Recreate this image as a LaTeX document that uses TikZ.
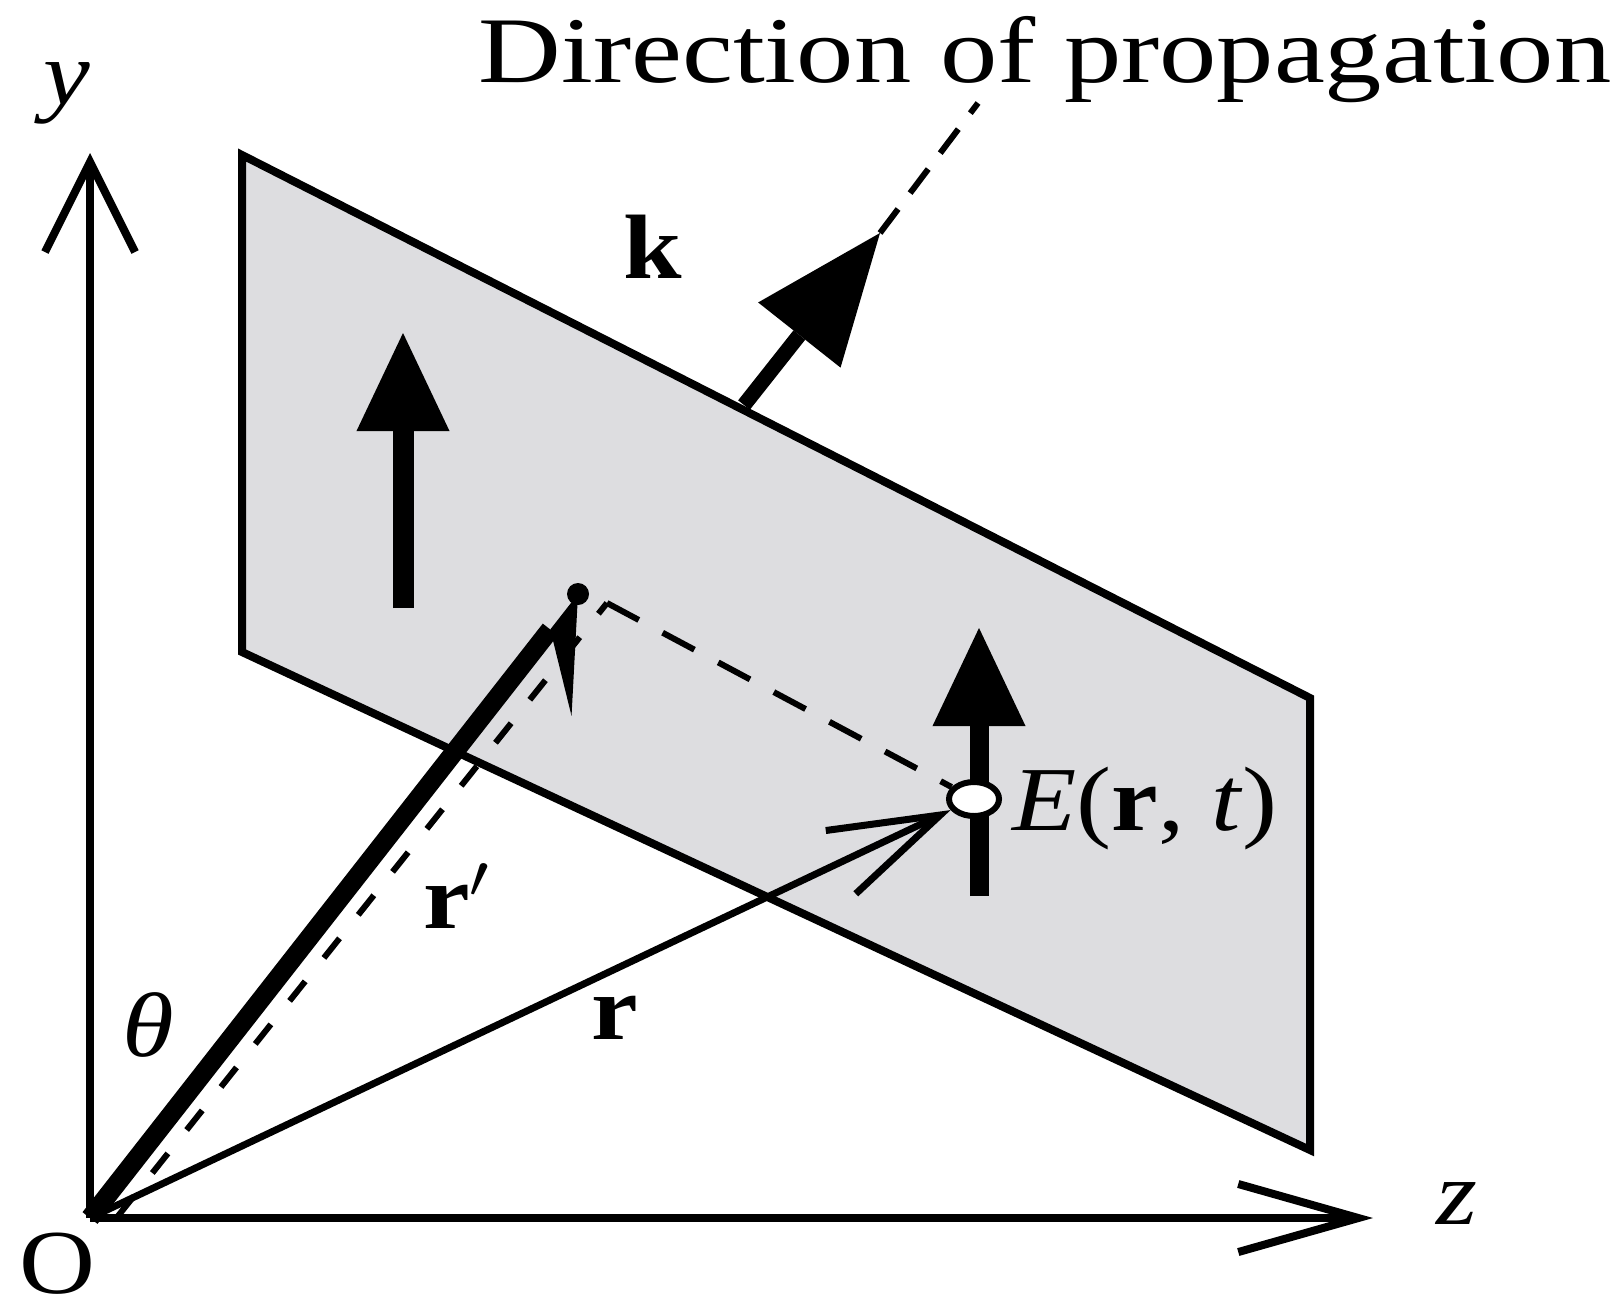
\documentclass[tikz,border=0pt]{standalone}
\usepackage{fontspec}
\setmainfont{Liberation Serif}
\usetikzlibrary{arrows.meta,shapes.geometric}

\definecolor{planegray}{RGB}{221,221,224}
\newcommand{\wtext}[2][1.15]{\scalebox{#1}[1]{#2}}

\tikzset{
  axis/.style={line width=0.08cm},
  lbl/.style={inner sep=0pt, font=\fontsize{26}{30}\selectfont},
  dashline/.style={line width=0.06cm, dash pattern=on 0.3cm off 0.25cm},
  fieldarrow/.style={line width=0.21cm, -{Triangle[length=0.98cm,width=0.93cm,line width=0pt]}},
}

\begin{document}
\begin{tikzpicture}[x=0.01cm, y=-0.01cm]
  \useasboundingbox (0,0) rectangle (1619,1312);
  % points
  \coordinate (O) at (90,1218);
  \coordinate (ytip) at (90,153);
  \coordinate (ztip) at (1373,1218);
  \coordinate (pa) at (242,155);
  \coordinate (pb) at (242,652);
  \coordinate (pc) at (1310,1150);
  \coordinate (pd) at (1310,698);
  % wave front
  \filldraw[fill=planegray, line width=0.08cm] (pa) -- (pb) -- (pc) -- (pd) -- cycle;
  % axes
  \draw[axis, -{Straight Barb[length=0.9cm,width=0.9cm]}] (O) -- (ytip);
  \draw[axis, -{Straight Barb[length=1.2cm,width=0.68cm]}] (O) -- (ztip);
  % field in the plane
  \coordinate (fa) at (403,608);
  \coordinate (fb) at (403,333);
  \draw[fieldarrow] (fa) -- (fb);
  \coordinate (ea) at (979,896);
  \coordinate (eb) at (979,628);
  \draw[fieldarrow, line width=0.19cm] (ea) -- (eb);
  % k and direction of propagation
  \coordinate (kbase) at (744,405);
  \coordinate (ktip) at (880,233);
  \coordinate (dirend) at (978,103);
  \draw[line width=0.15cm, -{Triangle[length=1.3cm,width=1.05cm,line width=0pt]}] (kbase) -- (ktip);
  \draw[dashline, dash pattern=on 0.3cm off 0.2cm] (ktip) -- (dirend);
  \node[lbl, font=\fontsize{26.7}{32}\selectfont, anchor=base west] (title) at (478,82)
    {\wtext[1.22]{Direction of propagation}};
  % point E
  \node[ellipse, draw, fill=white, line width=0.06cm, minimum width=0.5cm,
        minimum height=0.34cm, inner sep=0pt] (E) at (974,799) {};
  % r' and r
  \coordinate (foot) at (578,594);
  \coordinate (rpbase) at (118,1216);
  \coordinate (rptip) at (607,603);
  \draw[line width=0.19cm, -{Stealth[harpoon,swap,length=1cm,width=1.4cm,inset=0.55cm,line width=0pt]}] (O) -- (foot);
  \fill (foot) circle (11);
  \draw[dashline, dash pattern=on 0.25cm off 0.3cm] (rpbase) -- (rptip);
  \draw[dashline, dash pattern=on 0.36cm off 0.27cm] (rptip) -- (E);
  \draw[line width=0.07cm, -{Straight Barb[length=1.1cm,width=0.7cm]}] (O) -- (E);
  % labels
  \node[lbl] (ylab) at (67,93) {\wtext{\textit{y}}};
  \node[lbl] (zlab) at (1457,1203) {\wtext{\textit{z}}};
  \node[lbl] (Olab) at (57,1264) {\wtext{O}};
  \node[lbl] (thlab) at (148,1025) {\wtext{\textit{θ}}};
  \node[lbl] (klab) at (653,247) {\wtext{\textbf{k}}};
  \node[lbl] (rplab) at (457,896) {\wtext{\textbf{r}$'$}};
  \node[lbl] (rlab) at (615,1018) {\wtext{\textbf{r}}};
  \node[lbl, anchor=west] (Elab) at (1012,808) {\wtext{\textit{E}(\textbf{r}, \textit{t})}};
\end{tikzpicture}
\end{document}
